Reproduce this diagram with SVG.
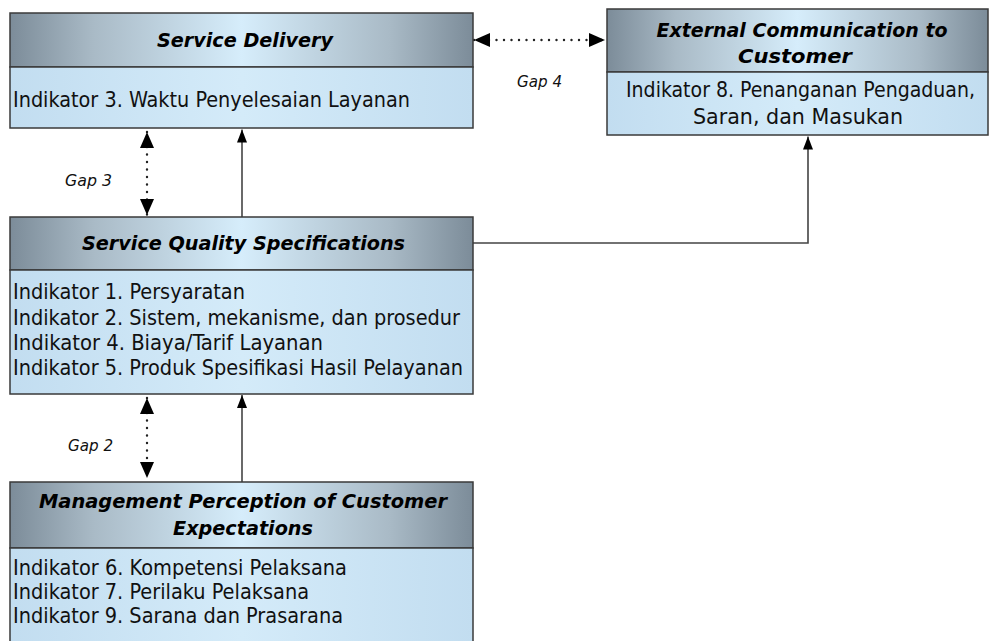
<svg xmlns="http://www.w3.org/2000/svg" width="993" height="641" viewBox="0 0 993 641">
<defs>
<linearGradient id="hdr" x1="0" y1="0" x2="1" y2="0">
<stop offset="0" stop-color="#7c8c99"/>
<stop offset="0.18" stop-color="#a9bac6"/>
<stop offset="0.5" stop-color="#d6edfb"/>
<stop offset="0.82" stop-color="#a9bac6"/>
<stop offset="1" stop-color="#7c8c99"/>
</linearGradient>
<linearGradient id="bdy" x1="0" y1="0" x2="1" y2="0">
<stop offset="0" stop-color="#c2ddf0"/>
<stop offset="0.5" stop-color="#d4ebf9"/>
<stop offset="1" stop-color="#c2ddf0"/>
</linearGradient>
<marker id="sa" viewBox="0 0 13 10" refX="13" refY="5" markerWidth="13" markerHeight="10" markerUnits="userSpaceOnUse" orient="auto-start-reverse">
<path d="M0,0 L13,5 L0,10 z" fill="#000"/>
</marker>
<marker id="da" viewBox="0 0 16 14" refX="16" refY="7" markerWidth="16" markerHeight="14" markerUnits="userSpaceOnUse" orient="auto-start-reverse">
<path d="M0,0 L16,7 L0,14 z" fill="#000"/>
</marker>
<style>
.hd{fill:url(#hdr);stroke:#3a3a3a;stroke-width:1.5}
.bd{fill:url(#bdy);stroke:#3a3a3a;stroke-width:1.5}
.ht{font-family:"DejaVu Sans",Verdana,sans-serif;font-weight:bold;font-style:italic;font-size:20px;fill:#000;text-anchor:middle}
.bt{font-family:"DejaVu Sans Condensed","DejaVu Sans",Tahoma,sans-serif;font-size:20.5px;fill:#111}
.mid{text-anchor:middle}
.gt{font-family:"DejaVu Sans Condensed","DejaVu Sans",Tahoma,sans-serif;font-style:italic;font-size:16.5px;fill:#111}
.sl{fill:none;stroke:#444;stroke-width:1.6}
.dl{fill:none;stroke:#222;stroke-width:2.4;stroke-linecap:round;stroke-dasharray:0 7.5}
</style>
</defs>
<g id="connectors">
<line class="dl" x1="147" y1="132" x2="147" y2="215" marker-start="url(#da)" marker-end="url(#da)"/>
<line class="sl" x1="242" y1="217" x2="242" y2="129.5" marker-end="url(#sa)"/>
<line class="dl" x1="147" y1="398" x2="147" y2="478" marker-start="url(#da)" marker-end="url(#da)"/>
<line class="sl" x1="242" y1="482" x2="242" y2="395" marker-end="url(#sa)"/>
<line class="dl" x1="474" y1="40" x2="605" y2="40" marker-start="url(#da)" marker-end="url(#da)"/>
<path class="sl" d="M473,243 H808 V136.5" marker-end="url(#sa)"/>
<text class="gt" x="65" y="186" textLength="47" lengthAdjust="spacingAndGlyphs">Gap 3</text>
<text class="gt" x="517" y="87" textLength="45" lengthAdjust="spacingAndGlyphs">Gap 4</text>
<text class="gt" x="68" y="451" textLength="45" lengthAdjust="spacingAndGlyphs">Gap 2</text>
</g>
<g id="service-delivery">
<rect class="hd" x="10" y="13" width="463" height="54"/>
<rect class="bd" x="10" y="67" width="463" height="61"/>
<text class="ht" x="245" y="47" textLength="176" lengthAdjust="spacingAndGlyphs">Service Delivery</text>
<text class="bt" x="13" y="107" textLength="397" lengthAdjust="spacingAndGlyphs">Indikator 3. Waktu Penyelesaian Layanan</text>
</g>
<g id="external-communication">
<rect class="hd" x="607" y="9" width="381" height="63"/>
<rect class="bd" x="607" y="72" width="381" height="63"/>
<text class="ht" x="802" y="37" textLength="291" lengthAdjust="spacingAndGlyphs">External Communication to</text>
<text class="ht" x="795" y="63" textLength="114" lengthAdjust="spacingAndGlyphs">Customer</text>
<text class="bt mid" x="800.5" y="97" textLength="349" lengthAdjust="spacingAndGlyphs">Indikator 8. Penanganan Pengaduan,</text>
<text class="bt mid" x="798" y="124" textLength="210" lengthAdjust="spacingAndGlyphs">Saran, dan Masukan</text>
</g>
<g id="service-quality-specifications">
<rect class="hd" x="10" y="217" width="463" height="53"/>
<rect class="bd" x="10" y="270" width="463" height="124"/>
<text class="ht" x="243.5" y="250" textLength="323" lengthAdjust="spacingAndGlyphs">Service Quality Specifications</text>
<text class="bt" x="13" y="299" textLength="232" lengthAdjust="spacingAndGlyphs">Indikator 1. Persyaratan</text>
<text class="bt" x="13" y="324.5" textLength="447" lengthAdjust="spacingAndGlyphs">Indikator 2. Sistem, mekanisme, dan prosedur</text>
<text class="bt" x="13" y="350" textLength="310" lengthAdjust="spacingAndGlyphs">Indikator 4. Biaya/Tarif Layanan</text>
<text class="bt" x="13" y="375" textLength="450" lengthAdjust="spacingAndGlyphs">Indikator 5. Produk Spesifikasi Hasil Pelayanan</text>
</g>
<g id="management-perception">
<rect class="hd" x="10" y="482" width="463" height="66"/>
<rect class="bd" x="10" y="548" width="463" height="102"/>
<text class="ht" x="243" y="508" textLength="408" lengthAdjust="spacingAndGlyphs">Management Perception of Customer</text>
<text class="ht" x="243" y="535" textLength="140" lengthAdjust="spacingAndGlyphs">Expectations</text>
<text class="bt" x="13" y="575" textLength="334" lengthAdjust="spacingAndGlyphs">Indikator 6. Kompetensi Pelaksana</text>
<text class="bt" x="13" y="599" textLength="296" lengthAdjust="spacingAndGlyphs">Indikator 7. Perilaku Pelaksana</text>
<text class="bt" x="13" y="623" textLength="330" lengthAdjust="spacingAndGlyphs">Indikator 9. Sarana dan Prasarana</text>
</g>
</svg>
